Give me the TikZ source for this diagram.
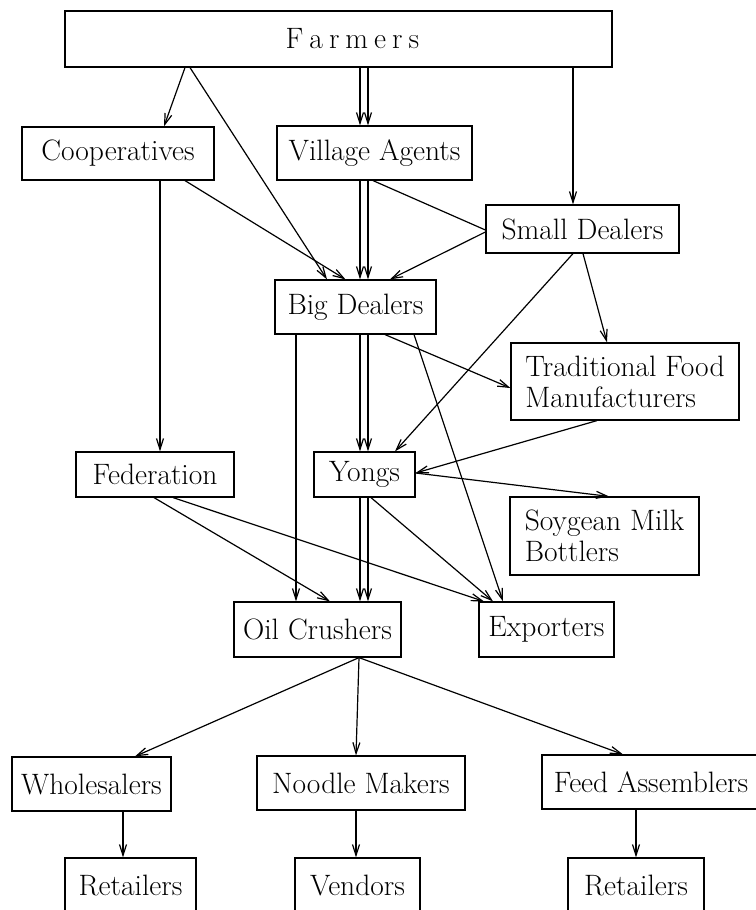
\documentclass[tikz,border=0pt]{standalone}
\usetikzlibrary{arrows.meta}
\begin{document}
\begin{tikzpicture}[x=1pt,y=-1pt,
  box/.style={draw, line width=1.2pt, inner sep=0pt, font=\fontsize{29.5}{31}\selectfont, align=left},
  arr/.style={line width=1.2pt, -{Straight Barb[length=11pt,width=7pt]}},
  plain/.style={line width=1.2pt}]
\useasboundingbox (0,0) rectangle (755,910);
\node[box, minimum width=547pt, minimum height=56pt] (farmers) at (338.5,39) {\hspace*{28pt}F\hspace{6pt}a\hspace{6pt}r\hspace{6pt}m\hspace{6pt}e\hspace{6pt}r\hspace{6pt}s};
\node[box, minimum width=192pt, minimum height=53pt] (coop) at (118,153.5) {Cooperatives};
\node[box, minimum width=195pt, minimum height=54pt] (village) at (374.5,153) {Village Agents};
\node[box, minimum width=193pt, minimum height=48pt] (small) at (582.5,229) {Small Dealers};
\node[box, minimum width=161pt, minimum height=54pt] (big) at (355.5,307) {Big Dealers};
\node[box, minimum width=228pt, minimum height=77pt] (tfm) at (625,381.5) {Traditional Food\\Manufacturers};
\node[box, minimum width=158pt, minimum height=45pt] (fed) at (155,474.5) {Federation};
\node[box, minimum width=101pt, minimum height=45pt] (yongs) at (364.5,474.5) {Yongs};
\node[box, minimum width=189pt, minimum height=78pt] (smb) at (604.5,536) {Soygean Milk\\Bottlers};
\node[box, minimum width=167pt, minimum height=55pt] (oil) at (317.5,629.5) {Oil Crushers};
\node[box, minimum width=135pt, minimum height=55pt] (exp) at (546.5,629.5) {Exporters};
\node[box, minimum width=159pt, minimum height=54pt] (whole) at (91.5,784) {Wholesalers};
\node[box, minimum width=208pt, minimum height=54pt] (noodle) at (361,783) {Noodle Makers};
\node[box, minimum width=218pt, minimum height=54pt] (feed) at (651,782) {Feed Assemblers};
\node[box, minimum width=131pt, minimum height=54pt] (ret1) at (130.5,885) {Retailers};
\node[box, minimum width=125pt, minimum height=54pt] (vendors) at (357.5,885) {Vendors};
\node[box, minimum width=136pt, minimum height=54pt] (ret2) at (636,885) {Retailers};
\coordinate (dl) at (360,0);
\coordinate (dr) at (368,0);
% Farmers
\draw[arr] ([xshift=-153.5pt]farmers.south) -- ([xshift=46pt]coop.north);
\draw[arr] ([xshift=-148.5pt]farmers.south) -- ([xshift=-28.5pt]big.north);
\draw[arr] (farmers.south -| dl) -- (village.north -| dl);
\draw[arr] (farmers.south -| dr) -- (village.north -| dr);
\draw[arr] ([xshift=234.5pt]farmers.south) -- ([xshift=-9.5pt]small.north);
% Cooperatives
\draw[arr] ([xshift=42pt]coop.south) -- ([xshift=5pt]fed.north);
\draw[arr] ([xshift=67pt]coop.south) -- ([xshift=-10pt]big.north);
% Village agents
\draw[arr] (village.south -| dl) -- (big.north -| dl);
\draw[arr] (village.south -| dr) -- (big.north -| dr);
\draw[plain] ([xshift=-1.5pt]village.south) -- ([yshift=-1pt]small.west);
% Small dealers
\draw[arr] ([yshift=-3pt]small.west) -- ([xshift=34.5pt]big.north);
\draw[arr] ([xshift=0.5pt]small.south) -- ([xshift=-18pt]tfm.north);
\draw[arr] ([xshift=-9.5pt]small.south) -- ([xshift=30.5pt]yongs.north);
% Big dealers
\draw[arr] ([xshift=-59.5pt]big.south) -- ([xshift=-21.5pt]oil.north);
\draw[arr] (big.south -| dl) -- (yongs.north -| dl);
\draw[arr] (big.south -| dr) -- (yongs.north -| dr);
\draw[arr] ([xshift=29.5pt]big.south) -- ([yshift=-6.5pt]tfm.west);
\draw[arr] ([xshift=58.5pt]big.south) -- ([xshift=-43.5pt]exp.north);
% TFM
\draw[arr] ([xshift=-28pt]tfm.south) -- ([yshift=1.5pt]yongs.east);
% Yongs
\draw[arr] ([yshift=1.5pt]yongs.east) -- ([xshift=4.5pt]smb.north);
\draw[arr] (yongs.south -| dl) -- (oil.north -| dl);
\draw[arr] (yongs.south -| dr) -- (oil.north -| dr);
\draw[arr] ([xshift=6.5pt]yongs.south) -- ([xshift=-53.5pt]exp.north);
% Federation
\draw[arr] ([xshift=-1pt]fed.south) -- ([xshift=12.5pt]oil.north);
\draw[arr] ([xshift=18pt]fed.south) -- ([xshift=-62.5pt]exp.north);
% Oil crushers
\draw[arr] ([xshift=41.5pt]oil.south) -- ([xshift=43.5pt]whole.north);
\draw[arr] ([xshift=41.5pt]oil.south) -- ([xshift=-5pt]noodle.north);
\draw[arr] ([xshift=41.5pt]oil.south) -- ([xshift=-28pt]feed.north);
% bottom
\draw[arr] ([xshift=31.5pt]whole.south) -- ([xshift=-7.5pt]ret1.north);
\draw[arr] ([xshift=-5pt]noodle.south) -- ([xshift=-1.5pt]vendors.north);
\draw[arr] ([xshift=-15pt]feed.south) -- (ret2.north);
\end{tikzpicture}
\end{document}
